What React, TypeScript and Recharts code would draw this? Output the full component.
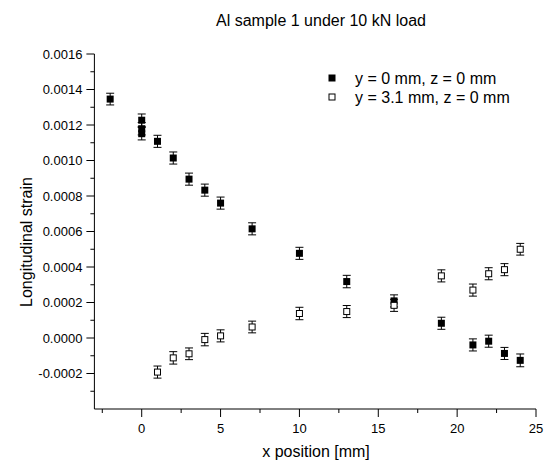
import React from 'react';
import { ScatterChart, Scatter, XAxis, YAxis, ErrorBar, Legend } from 'recharts';

// ---- data ----
const xFilled = [-2, 0, 0, 0, 1, 2, 3, 4, 5, 7, 10, 13, 16, 19, 21, 22, 23, 24];
const strainFilled = [
  0.001346, 0.001227, 0.001179, 0.001151, 0.001108, 0.001014, 0.000895, 0.000833, 0.00076,
  0.000615, 0.000477, 0.000318, 0.000209, 0.000083, -0.000039, -0.000018, -0.000087, -0.000126,
];
const errFilled = [
  0.000033, 0.000035, 0.000035, 0.000035, 0.000034, 0.000034, 0.000034, 0.000034, 0.000034,
  0.000034, 0.000034, 0.000035, 0.000034, 0.000034, 0.000034, 0.000034, 0.000034, 0.000036,
];

const xOpen = [1, 2, 3, 4, 5, 7, 10, 13, 16, 19, 21, 22, 23, 24];
const strainOpen = [
  -0.000192, -0.000112, -0.000089, -0.000009, 0.000012, 0.000062, 0.000138, 0.000149, 0.000184,
  0.00035, 0.00027, 0.000362, 0.000385, 0.0005,
];
const errOpen = [
  0.000034, 0.000035, 0.000033, 0.000035, 0.000034, 0.000033, 0.000035, 0.000034, 0.000034,
  0.000034, 0.000034, 0.000034, 0.000034, 0.000033,
];

const seriesNames = ['y = 0 mm, z = 0 mm', 'y = 3.1 mm, z = 0 mm'];
const chartTitle = 'Al sample 1 under 10 kN load';
const xTitle = 'x position [mm]';
const yTitle = 'Longitudinal strain';

const xMajorTicks = [0, 5, 10, 15, 20, 25];
const xMinorTicks = [-2.5, 2.5, 7.5, 12.5, 17.5, 22.5];
const yMajorTicks = [-0.0002, 0, 0.0002, 0.0004, 0.0006, 0.0008, 0.001, 0.0012, 0.0014, 0.0016];
const yMinorTicks = [-0.0003, -0.0001, 0.0001, 0.0003, 0.0005, 0.0007, 0.0009, 0.0011, 0.0013, 0.0015];

// ---- tables built from the arrays ----
const filledData = xFilled.map((x, i) => ({ x, y: strainFilled[i], err: errFilled[i] }));
const openData = xOpen.map((x, i) => ({ x, y: strainOpen[i], err: errOpen[i] }));

const FONT = '"Liberation Sans", Arial, Helvetica, sans-serif';
const isMajor = (list: number[], v: number) => list.some((t) => Math.abs(t - v) < 1e-9);

const XTick = (props: any) => {
  const { x, y, payload } = props;
  const major = isMajor(xMajorTicks, payload.value);
  return (
    <g>
      <line x1={x} y1={y} x2={x} y2={y + (major ? 8 : 4)} stroke="#000" strokeWidth={1} />
      {major && (
        <text x={x} y={y + 23.5} textAnchor="middle" fontSize={13} fontFamily={FONT} fill="#000">
          {String(payload.value)}
        </text>
      )}
    </g>
  );
};

const YTick = (props: any) => {
  const { x, y, payload } = props;
  const major = isMajor(yMajorTicks, payload.value);
  return (
    <g>
      <line x1={x} y1={y} x2={x - (major ? 8 : 4)} y2={y} stroke="#000" strokeWidth={1} />
      {major && (
        <text x={x - 12} y={y + 4.6} textAnchor="end" fontSize={13} fontFamily={FONT} fill="#000">
          {Number(payload.value).toFixed(4)}
        </text>
      )}
    </g>
  );
};

const FilledSquare = (p: any) => (
  <rect x={p.cx - 3.5} y={p.cy - 3.5} width={7} height={7} fill="#000" />
);
const OpenSquare = (p: any) => (
  <rect x={p.cx - 3} y={p.cy - 3} width={6} height={6} fill="#fff" stroke="#000" strokeWidth={1} />
);

const LegendContent = (props: any) => {
  const items = props.payload && props.payload.length ? props.payload : seriesNames.map((n) => ({ value: n }));
  return (
    <svg width={244} height={50} style={{ display: 'block' }}>
      {items.map((it: any, i: number) => {
        const cy = 18 + i * 19;
        return (
          <g key={i}>
            {i === 0 ? (
              <rect x={28.5} y={cy - 3.5} width={7} height={7} fill="#000" />
            ) : (
              <rect x={29} y={cy - 3} width={6} height={6} fill="#fff" stroke="#000" strokeWidth={1} />
            )}
            <text x={55} y={cy + 5.7} fontSize={16} fontFamily={FONT} fill="#000">
              {it.value}
            </text>
          </g>
        );
      })}
    </svg>
  );
};

export default function App() {
  return (
    <div style={{ position: 'absolute', left: 0, top: 0, width: 544, height: 462, background: '#fff' }}>
      <ScatterChart width={544} height={462} margin={{ top: 54, right: 8, bottom: 0, left: 0 }}>
        <XAxis
          type="number"
          dataKey="x"
          domain={[-3, 25]}
          ticks={[...xMinorTicks, ...xMajorTicks].sort((a, b) => a - b)}
          interval={0}
          allowDataOverflow
          height={53}
          tickSize={0}
          tickMargin={0}
          tickLine={false}
          axisLine={{ stroke: '#000', strokeWidth: 1 }}
          tick={(p: any) => <XTick {...p} />}
        />
        <YAxis
          type="number"
          dataKey="y"
          domain={[-0.0004, 0.0016]}
          ticks={[...yMinorTicks, ...yMajorTicks].sort((a, b) => a - b)}
          interval={0}
          allowDataOverflow
          width={94.4}
          tickSize={0}
          tickMargin={0}
          tickLine={false}
          axisLine={{ stroke: '#000', strokeWidth: 1 }}
          tick={(p: any) => <YTick {...p} />}
        />
        <Legend
          layout="horizontal"
          verticalAlign="middle"
          align="center"
          wrapperStyle={{ left: 300, top: 60, width: 244, height: 50 }}
          content={(p: any) => <LegendContent {...p} />}
        />
        <Scatter
          name={seriesNames[0]}
          data={filledData}
          fill="#000"
          shape={(p: any) => <FilledSquare {...p} />}
          isAnimationActive={false}
        >
          <ErrorBar dataKey="err" direction="y" width={4} stroke="#000" strokeWidth={1} isAnimationActive={false} />
        </Scatter>
        <Scatter
          name={seriesNames[1]}
          data={openData}
          fill="#fff"
          shape={(p: any) => <OpenSquare {...p} />}
          isAnimationActive={false}
        >
          <ErrorBar dataKey="err" direction="y" width={4} stroke="#000" strokeWidth={1} isAnimationActive={false} />
        </Scatter>
      </ScatterChart>
      <svg
        width={544}
        height={462}
        style={{ position: 'absolute', left: 0, top: 0, pointerEvents: 'none' }}
      >
        <text x={321} y={26} textAnchor="middle" fontSize={16} fontFamily={FONT} fill="#000">
          {chartTitle}
        </text>
        <text x={316} y={457} textAnchor="middle" fontSize={16} fontFamily={FONT} fill="#000">
          {xTitle}
        </text>
        <text
          x={32}
          y={242}
          textAnchor="middle"
          fontSize={16}
          fontFamily={FONT}
          fill="#000"
          transform="rotate(-90 32 242)"
        >
          {yTitle}
        </text>
      </svg>
    </div>
  );
}
